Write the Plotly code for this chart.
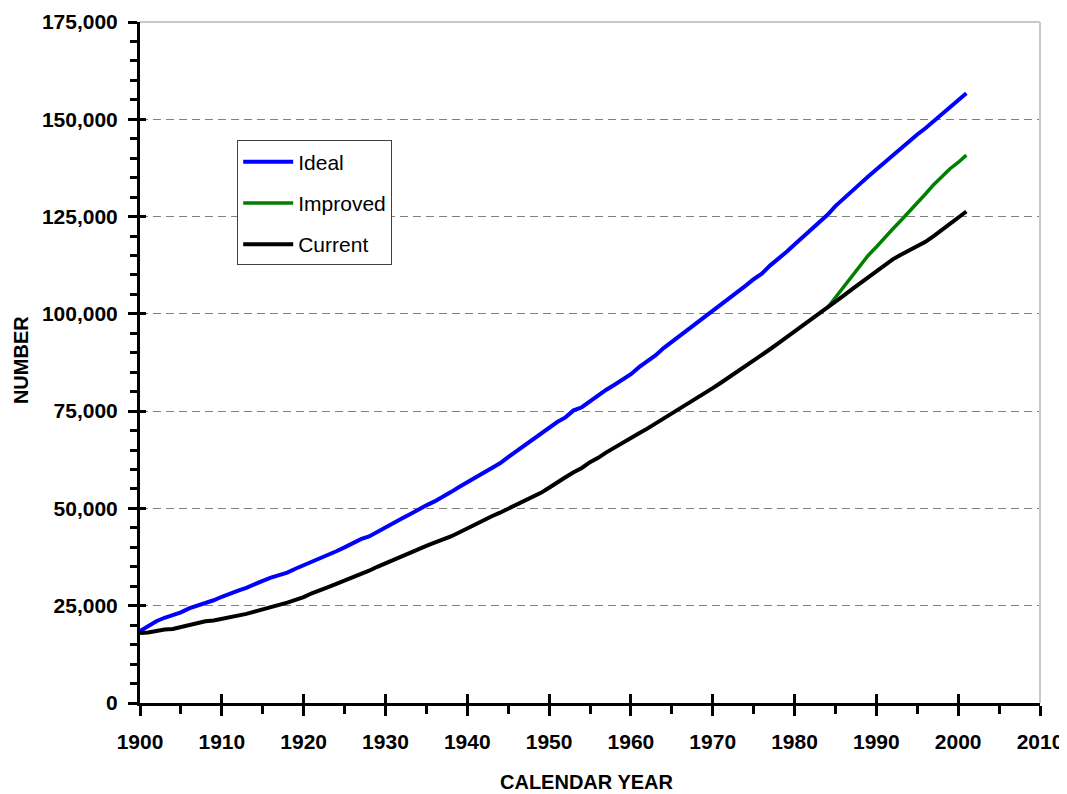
import plotly.graph_objects as go

years = list(range(1900, 2002))

ideal = [18.5, 19.8, 21.0, 21.9, 22.5, 23.3, 24.3, 25.0, 25.6, 26.4,
         27.3, 28.2, 28.9, 29.6, 30.6, 31.4, 32.2, 32.8, 33.5, 34.5,
         35.4, 36.1, 37.0, 38.0, 39.0, 40.0, 41.1, 42.1, 42.8, 44.0,
         45.2, 46.2, 47.4, 48.5, 49.7, 50.8, 51.8, 52.9, 54.2, 55.5,
         56.7, 57.8, 59.0, 60.3, 61.6, 63.2, 64.7, 66.1, 67.6, 69.2,
         70.8, 72.2, 73.4, 75.2, 76.0, 77.6, 79.0, 80.5, 81.8, 83.2,
         84.5, 86.3, 87.7, 89.3, 91.2, 92.8, 94.3, 95.7, 97.3, 99.0,
         100.6, 102.3, 103.8, 105.5, 107.2, 108.9, 110.3, 112.4, 114.0, 115.9,
         117.8, 119.7, 121.7, 123.3, 125.4, 127.7, 129.5, 131.4, 133.4, 135.3,
         137.1, 139.0, 140.8, 142.8, 144.5, 146.1, 147.7, 149.4, 151.3, 153.1,
         154.9, 156.7]

current = [18.0, 18.1, 18.5, 18.9, 19.0, 19.5, 20.0, 20.5, 21.0, 21.2,
           21.6, 22.1, 22.5, 22.9, 23.5, 24.0, 24.6, 25.2, 25.8, 26.4,
           27.2, 28.2, 28.9, 29.8, 30.6, 31.4, 32.3, 33.2, 34.0, 35.0,
           35.9, 36.8, 37.9, 38.7, 39.6, 40.4, 41.2, 41.9, 42.8, 43.8,
           44.9, 45.9, 47.0, 48.0, 48.9, 49.9, 50.8, 52.0, 53.0, 54.0,
           55.3, 56.8, 58.0, 59.3, 60.4, 61.9, 63.0, 64.4, 65.7, 67.0,
           68.1, 69.3, 70.5, 71.8, 73.1, 74.4, 75.6, 76.8, 78.2, 79.5,
           80.9, 82.3, 83.7, 85.1, 86.5, 87.8, 89.2, 90.9, 92.4, 93.9,
           95.5, 97.0, 98.5, 100.0, 101.5, 103.0, 104.7, 106.3, 108.0, 109.4,
           110.9, 112.6, 114.0, 115.2, 116.3, 117.3, 118.5, 120.0, 121.6, 123.0,
           124.6, 126.3]

improved_years = list(range(1984, 2002))
improved = [101.5, 104.2, 107.0, 109.8, 112.5, 115.0, 117.2, 119.6, 121.8, 124.0,
            126.2, 128.4, 130.8, 133.2, 135.4, 137.3, 138.9, 140.8]

x_ticks = list(range(1900, 2011, 10))
y_ticks = list(range(0, 175001, 25000))

FONT = "Liberation Sans, Arial, sans-serif"

fig = go.Figure()
fig.add_trace(go.Scatter(x=years, y=[v * 1000 for v in ideal], mode="lines", name="Ideal",
                         line=dict(color="#0000FF", width=4), legendgroup="a"))
fig.add_trace(go.Scatter(x=improved_years, y=[v * 1000 for v in improved], mode="lines", name="Improved",
                         line=dict(color="#008000", width=3.5), legendgroup="b"))
fig.add_trace(go.Scatter(x=years, y=[v * 1000 for v in current], mode="lines", name="Current",
                         line=dict(color="#000000", width=4), legendgroup="c"))

tickfont = dict(family=FONT, size=21, color="black", weight="bold")

# the page body adds an 8px offset, so the figure is sized 8px smaller
fig.update_layout(
    width=1059, height=786,
    margin=dict(l=132, r=27, t=14, b=91, autoexpand=False),
    paper_bgcolor="white", plot_bgcolor="white",
    showlegend=True,
    legend=dict(x=0.108, y=0.826, xanchor="left", yanchor="top",
                bordercolor="#404040", borderwidth=1, bgcolor="white",
                font=dict(family=FONT, size=21, color="black"),
                tracegroupgap=11, traceorder="grouped", itemwidth=50),
    xaxis=dict(range=[1900, 2010], tickvals=x_ticks, ticktext=[str(t) for t in x_ticks],
               ticks="outside", ticklen=10, tickwidth=3, tickcolor="black",
               minor=dict(ticks="outside", dtick=5, tick0=1900, ticklen=8, tickwidth=2.5, tickcolor="black"),
               showline=True, linewidth=3, linecolor="black", automargin=False,
               showgrid=False, zeroline=False, tickfont=tickfont, ticklabelstandoff=8),
    yaxis=dict(range=[0, 175000], tickvals=y_ticks, tickformat=",d",
               ticks="outside", ticklen=9, tickwidth=3, tickcolor="black",
               minor=dict(ticks="outside", dtick=5000, tick0=0, ticklen=7, tickwidth=2.5, tickcolor="black"),
               showline=True, linewidth=3, linecolor="black", automargin=False,
               showgrid=True, gridcolor="#808080", gridwidth=1, griddash="8px,5px",
               zeroline=False, tickfont=tickfont, ticklabelstandoff=6),
    xaxis2=dict(range=[1900, 2010], overlaying="x", anchor="y", side="bottom",
                tickvals=x_ticks, ticks="inside", ticklen=9, tickwidth=3, tickcolor="black",
                showticklabels=False, showgrid=False, zeroline=False, showline=False, automargin=False),
    yaxis2=dict(range=[0, 175000], overlaying="y", anchor="x", side="left",
                tickvals=y_ticks, ticks="inside", ticklen=6, tickwidth=3, tickcolor="black",
                showticklabels=False, showgrid=False, zeroline=False, showline=False, automargin=False),
    shapes=[
        dict(type="line", xref="paper", yref="paper", x0=0, x1=1, y0=1, y1=1,
             line=dict(color="#c8c8c8", width=2)),
        dict(type="line", xref="paper", yref="paper", x0=1, x1=1, y0=0, y1=1,
             line=dict(color="#c8c8c8", width=2)),
    ],
    annotations=[
        dict(text="CALENDAR YEAR", xref="paper", yref="paper", x=0.4967, y=-0.116,
             xanchor="center", yanchor="middle", showarrow=False,
             font=dict(family=FONT, size=20, color="black", weight="bold")),
        dict(text="NUMBER", xref="paper", yref="paper", x=-0.133, y=0.504,
             xanchor="center", yanchor="middle", showarrow=False, textangle=-90,
             font=dict(family=FONT, size=20, color="black", weight="bold")),
    ],
)

# empty helper traces so the overlay axes are drawn
fig.add_trace(go.Scatter(x=[], y=[], xaxis="x2", yaxis="y", showlegend=False, hoverinfo="skip"))
fig.add_trace(go.Scatter(x=[], y=[], xaxis="x", yaxis="y2", showlegend=False, hoverinfo="skip"))

fig.write_html("out.html")
